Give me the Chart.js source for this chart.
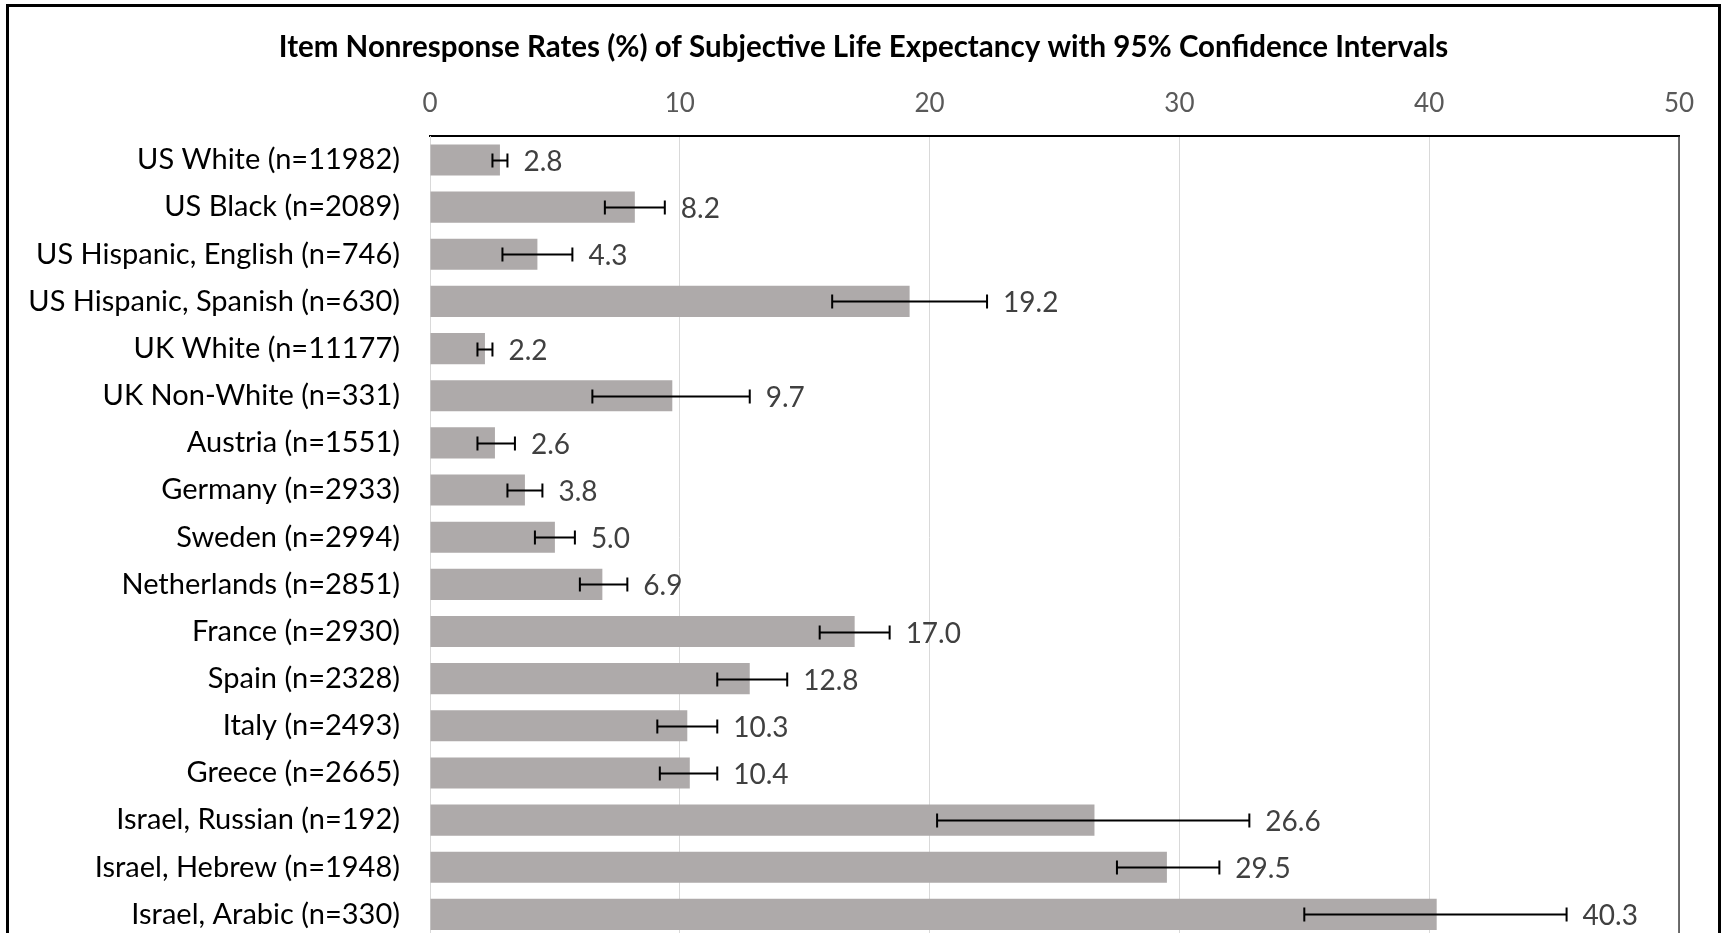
<!DOCTYPE html>
<html>
<head>
<meta charset="utf-8">
<script src="https://cdn.jsdelivr.net/npm/chart.js@4/dist/chart.umd.min.js"></script>
<style>
  html, body { margin: 0; padding: 0; background: #fff; overflow: hidden; }
  #frame {
    position: absolute; left: 6px; top: 4px;
    width: 1709px; height: 940px;
    border: 3px solid #000;
  }
</style>
</head>
<body>
<div id="frame"><canvas id="chart" width="1709" height="940"></canvas></div>
<script>
const categories = [
  'US White (n=11982)', 'US Black (n=2089)', 'US Hispanic, English (n=746)',
  'US Hispanic, Spanish (n=630)', 'UK White (n=11177)', 'UK Non-White (n=331)',
  'Austria (n=1551)', 'Germany (n=2933)', 'Sweden (n=2994)', 'Netherlands (n=2851)',
  'France (n=2930)', 'Spain (n=2328)', 'Italy (n=2493)', 'Greece (n=2665)',
  'Israel, Russian (n=192)', 'Israel, Hebrew (n=1948)', 'Israel, Arabic (n=330)',
];
const rates = [2.8, 8.2, 4.3, 19.2, 2.2, 9.7, 2.6, 3.8, 5.0, 6.9, 17.0, 12.8, 10.3, 10.4, 26.6, 29.5, 40.3];
const ciLow = [2.5, 7.0, 2.9, 16.1, 1.9, 6.5, 1.9, 3.1, 4.2, 6.0, 15.6, 11.5, 9.1, 9.2, 20.3, 27.5, 35.0];
const ciHigh = [3.1, 9.4, 5.7, 22.3, 2.5, 12.8, 3.4, 4.5, 5.8, 7.9, 18.4, 14.3, 11.5, 11.5, 32.8, 31.6, 45.5];
const xMin = 0;
const xMax = 50;
const xStep = 10;

const FONT = 'Lato, "Open Sans", sans-serif';

// error bars + value labels, drawn through the chart scales
const errorBars = {
  id: 'errorBars',
  afterDatasetsDraw(chart) {
    const { ctx, scales: { x } } = chart;
    const meta = chart.getDatasetMeta(0);
    ctx.save();
    ctx.strokeStyle = '#000';
    ctx.lineWidth = 2;
    meta.data.forEach((bar, i) => {
      const yc = Math.round(bar.y) + 0.5;
      const x1 = x.getPixelForValue(ciLow[i]);
      const x2 = x.getPixelForValue(ciHigh[i]);
      ctx.beginPath();
      ctx.moveTo(x1, yc); ctx.lineTo(x2, yc);
      ctx.moveTo(x1, yc - 7); ctx.lineTo(x1, yc + 7);
      ctx.moveTo(x2, yc - 7); ctx.lineTo(x2, yc + 7);
      ctx.stroke();
      ctx.fillStyle = '#404040';
      ctx.font = '28px ' + FONT;
      ctx.textAlign = 'left';
      ctx.textBaseline = 'middle';
      ctx.fillText(rates[i].toFixed(1), x2 + 16, yc + 1);
    });
    // right edge of the plot area
    const a = chart.chartArea;
    ctx.strokeStyle = '#404040';
    ctx.lineWidth = 1.5;
    ctx.beginPath();
    ctx.moveTo(a.right, a.top); ctx.lineTo(a.right, a.bottom);
    ctx.stroke();
    ctx.restore();
  },
};

new Chart(document.getElementById('chart'), {
  type: 'bar',
  data: {
    labels: categories,
    datasets: [{
      data: rates,
      backgroundColor: '#AEAAAA',
      categoryPercentage: 1,
      barPercentage: 0.66,
    }],
  },
  options: {
    indexAxis: 'y',
    responsive: false,
    animation: false,
    layout: { padding: { left: 0, right: 0, top: 0, bottom: 9 } },
    plugins: {
      legend: { display: false },
      tooltip: { enabled: false },
      title: {
        display: true,
        text: 'Item Nonresponse Rates (%) of Subjective Life Expectancy with 95% Confidence Intervals',
        color: '#000',
        font: { family: FONT, size: 29.5, weight: 'bold', lineHeight: 1.2 },
        padding: { top: 23, bottom: 21 },
      },
    },
    scales: {
      x: {
        position: 'top',
        min: xMin,
        max: xMax,
        ticks: { stepSize: xStep, color: '#595959', padding: 17, font: { family: FONT, size: 26 } },
        grid: { color: '#D9D9D9', lineWidth: 1, drawTicks: false },
        border: { color: '#000', width: 2 },
        afterFit(scale) {
          scale.height = 50;
          scale.paddingLeft = 0;
          scale.paddingRight = 39;
        },
      },
      y: {
        ticks: { color: '#000', padding: 30, font: { family: FONT, size: 29 } },
        grid: { display: false, drawTicks: false },
        border: { color: '#D9D9D9', width: 1 },
        afterFit(scale) {
          scale.width = 421;
          scale.paddingTop = 0;
          scale.paddingBottom = 0;
        },
      },
    },
  },
  plugins: [errorBars],
});
</script>
</body>
</html>
